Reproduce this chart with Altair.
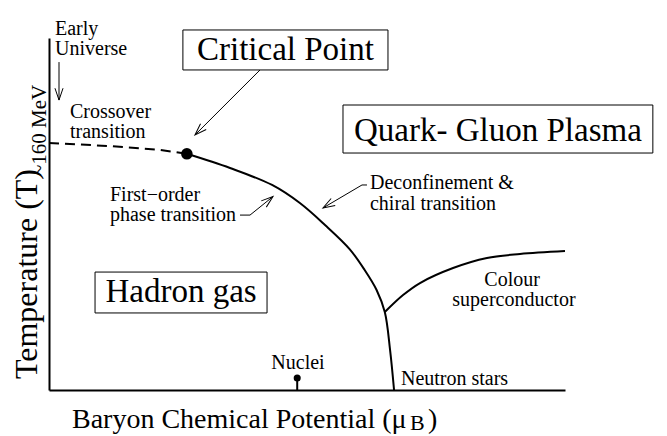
import math
import altair as alt
import pandas as pd

# ---------------- data (schematic units: mu_B ~ MeV, T ~ MeV) ----------------
crossover_mu = [0, 230, 420, 521]
crossover_T = [160, 158, 155.5, 153]

transition_mu = [521, 684, 843, 948, 1043, 1136, 1193, 1238, 1269, 1289, 1304]
transition_T = [153, 143.8, 132.8, 121.1, 106.9, 91.3, 77.7, 64.8, 50.5, 25.9, 0]

colour_mu = [1269, 1338, 1402, 1527, 1655, 1780, 1950]
colour_T = [50.5, 61.5, 69.3, 79.0, 85.5, 88.1, 90.0]

critical_mu = [521]
critical_T = [153]

nuclei_mu = [938]
nuclei_T = [7.8]

box_text = ["Critical Point", "Quark- Gluon Plasma", "Hadron gas"]
box_mu1 = [506, 1111, 174]
box_mu2 = [1281, 2282, 824]
box_T1 = [207.3, 153.5, 49.9]
box_T2 = [233.2, 184.6, 76.4]
box_label_T = [220.2, 167.7, 63.2]

left_text = ["Early", "Universe", "Crossover", "transition", "First\u2212order",
             "phase transition", "Deconfinement &", "chiral transition", "Neutron stars"]
left_mu = [22.7, 22.7, 79.4, 79.4, 230.5, 230.5, 1213, 1213, 1330]
left_T = [229.9, 217.0, 176.2, 163.2, 122.4, 109.5, 129.9, 116.6, 3.2]

center_text = ["Colour", "superconductor", "Nuclei"]
center_mu = [1750, 1757, 941]
center_T = [67.4, 54.4, 13.6]

rot_text = ["~160 MeV", "Temperature (T)"]
rot_mu = [-11.3, -45.3]
rot_T = [168.1, 75.1]
rot_size = [21, 32]

xt_text = ["Baryon Chemical Potential (\u03bc", "B", ")"]
xt_mu = [86.9, 1364, 1432]
xt_T = [-24.6, -26.2, -24.6]
xt_size = [28, 22, 28]

arrow_id = ["eu", "eu", "cp", "cp", "fo", "fo", "fo", "dc", "dc", "dc"]
arrow_mu = [37.8, 37.8, 797.4, 551.7, 721.8, 759.6, 846.5, 1201.7, 1182.8, 1035.4]
arrow_T = [212.4, 187.8, 207.3, 165.2, 113.3, 113.3, 125.3, 132.8, 132.8, 117.9]

# ---------------- layout ----------------
W, H = 516, 352
MU_MAX, T_MAX = 1950, 228
FONT = "Liberation Serif"

xs = alt.Scale(domain=[0, MU_MAX], nice=False, zero=False)
ys = alt.Scale(domain=[0, T_MAX], nice=False, zero=False)
xax = alt.Axis(labels=False, ticks=False, grid=False, title=None,
               domainWidth=2, domainColor="black")
yax = alt.Axis(labels=False, ticks=False, grid=False, title=None,
               domainWidth=2, domainColor="black")


def X(f="mu"):
    return alt.X(f"{f}:Q", scale=xs, axis=xax)


def Y(f="T"):
    return alt.Y(f"{f}:Q", scale=ys, axis=yax)


cross_df = pd.DataFrame({"mu": crossover_mu, "T": crossover_T, "o": range(len(crossover_mu))})
trans_df = pd.DataFrame({"mu": transition_mu, "T": transition_T, "o": range(len(transition_mu))})
col_df = pd.DataFrame({"mu": colour_mu, "T": colour_T, "o": range(len(colour_mu))})

cross = alt.Chart(cross_df).mark_line(color="black", strokeWidth=2, strokeDash=[10, 6]).encode(
    x=X(), y=Y(), order="o:Q")
trans = alt.Chart(trans_df).mark_line(color="black", strokeWidth=2, interpolate="catmull-rom").encode(
    x=X(), y=Y(), order="o:Q")
colour = alt.Chart(col_df).mark_line(color="black", strokeWidth=2, interpolate="catmull-rom").encode(
    x=X(), y=Y(), order="o:Q")

cp = alt.Chart(pd.DataFrame({"mu": critical_mu, "T": critical_T})).mark_point(
    filled=True, color="black", size=135, opacity=1).encode(x=X(), y=Y())

nuc_df = pd.DataFrame({"mu": nuclei_mu, "T": nuclei_T, "T0": [0] * len(nuclei_mu)})
nuc_rule = alt.Chart(nuc_df).mark_rule(color="black", strokeWidth=2).encode(
    x=X(), y=Y(), y2="T0:Q")
nuc_pt = alt.Chart(nuc_df).mark_point(filled=True, color="black", size=50, opacity=1).encode(
    x=X(), y=Y())

box_df = pd.DataFrame({"label": box_text, "mu": box_mu1, "mu2": box_mu2, "T": box_T1, "T2": box_T2,
                       "mc": [(a + b) / 2 for a, b in zip(box_mu1, box_mu2)], "Tc": box_label_T})
boxes = alt.Chart(box_df).mark_rect(fill="white", stroke="black", strokeWidth=1).encode(
    x=X(), x2="mu2:Q", y=Y(), y2="T2:Q")
box_labels = alt.Chart(box_df).mark_text(font=FONT, fontSize=33, color="black",
                                         align="center", baseline="middle").encode(
    x=X("mc"), y=Y("Tc"), text="label:N")

left_df = pd.DataFrame({"label": left_text, "mu": left_mu, "T": left_T})
left_labels = alt.Chart(left_df).mark_text(font=FONT, fontSize=20, color="black",
                                           align="left", baseline="alphabetic").encode(
    x=X(), y=Y(), text="label:N")

center_df = pd.DataFrame({"label": center_text, "mu": center_mu, "T": center_T})
center_labels = alt.Chart(center_df).mark_text(font=FONT, fontSize=20, color="black",
                                               align="center", baseline="alphabetic").encode(
    x=X(), y=Y(), text="label:N")

rot_df = pd.DataFrame({"label": rot_text, "mu": rot_mu, "T": rot_T, "size": rot_size})
rot_labels = alt.Chart(rot_df).mark_text(font=FONT, color="black", angle=270,
                                         align="center", baseline="alphabetic").encode(
    x=X(), y=Y(), text="label:N", size=alt.Size("size:Q", scale=None, legend=None))

xt_df = pd.DataFrame({"label": xt_text, "mu": xt_mu, "T": xt_T, "size": xt_size})
xt_labels = alt.Chart(xt_df).mark_text(font=FONT, color="black",
                                       align="left", baseline="alphabetic").encode(
    x=X(), y=Y(), text="label:N", size=alt.Size("size:Q", scale=None, legend=None))

arr_df = pd.DataFrame({"id": arrow_id, "mu": arrow_mu, "T": arrow_T, "o": range(len(arrow_id))})
arrows = alt.Chart(arr_df).mark_line(color="black", strokeWidth=1).encode(
    x=X(), y=Y(), detail="id:N", order="o:Q")

# arrow heads: direction of the last segment of each arrow, in screen space
sx, sy = W / MU_MAX, H / T_MAX
heads = []
for aid in dict.fromkeys(arrow_id):
    pts = arr_df[arr_df["id"] == aid]
    (m0, t0), (m1, t1) = pts[["mu", "T"]].values[-2], pts[["mu", "T"]].values[-1]
    dx, dy = (m1 - m0) * sx, -(t1 - t0) * sy
    ang = math.degrees(math.atan2(-dx, dy)) % 360
    heads.append({"mu": m1, "T": t1, "angle": ang})
head_df = pd.DataFrame(heads)
arrow_heads = alt.Chart(head_df).mark_point(
    shape="M -0.34 -1 L 0 0 L 0.34 -1", filled=False, color="black", strokeWidth=1,
    size=560, opacity=1).encode(x=X(), y=Y(), angle=alt.Angle("angle:Q", scale=None))

chart = alt.layer(
    cross, trans, colour, cp, nuc_rule, nuc_pt, arrows, arrow_heads,
    boxes, box_labels, left_labels, center_labels, rot_labels, xt_labels
).properties(
    width=W, height=H,
    autosize=alt.AutoSizeParams(type="none"),
    padding={"left": 41, "top": 30, "right": 94, "bottom": 46},
    background="white",
).configure_view(stroke=None)

chart.save("out.html", embed_options={"renderer": "svg", "actions": False})
